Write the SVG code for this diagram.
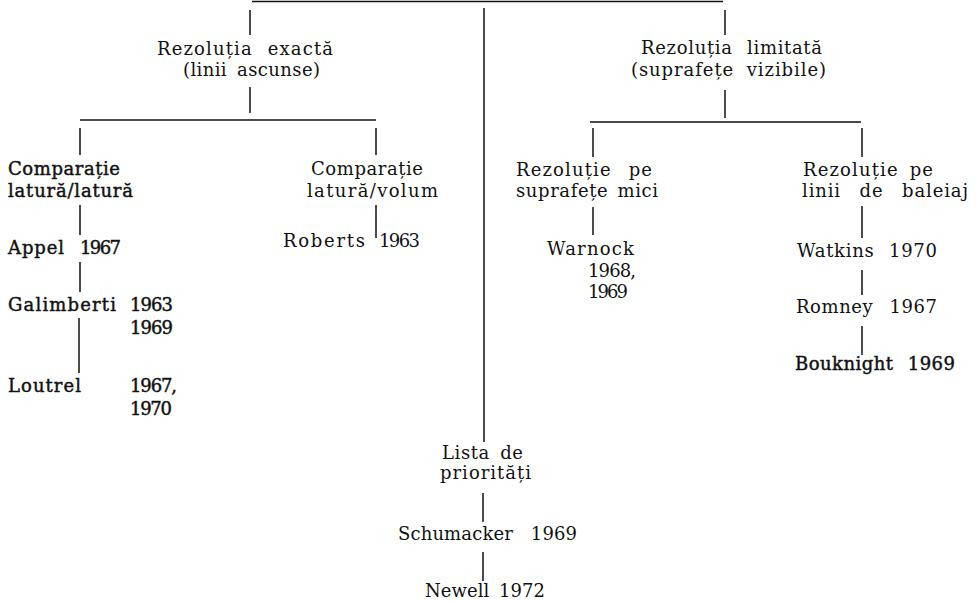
<svg xmlns="http://www.w3.org/2000/svg" width="977" height="601" viewBox="0 0 977 601">
<style>
text{font-family:"DejaVu Serif","Liberation Serif",serif;font-size:18px;fill:#111;}
.b{stroke:#111;stroke-width:0.45px;}
#connectors line{stroke:#111;stroke-width:1.5;}
</style>
<rect width="977" height="601" fill="#fff"/>
<g id="connectors">
<line x1="252" y1="1.5" x2="723" y2="1.5"/>
<line x1="250" y1="10" x2="250" y2="35"/>
<line x1="250" y1="87" x2="250" y2="113"/>
<line x1="80" y1="120" x2="376" y2="120"/>
<line x1="80" y1="128" x2="80" y2="155"/>
<line x1="80" y1="205" x2="80" y2="235"/>
<line x1="80" y1="262" x2="80" y2="292"/>
<line x1="79" y1="318" x2="79" y2="373"/>
<line x1="376" y1="128" x2="376" y2="155"/>
<line x1="376" y1="205" x2="376" y2="238"/>
<line x1="484" y1="8" x2="484" y2="442"/>
<line x1="483" y1="493" x2="483" y2="522"/>
<line x1="483" y1="552" x2="483" y2="581"/>
<line x1="725" y1="10" x2="725" y2="35"/>
<line x1="725" y1="90" x2="725" y2="118"/>
<line x1="590" y1="122" x2="861" y2="122"/>
<line x1="593" y1="128" x2="593" y2="157"/>
<line x1="593" y1="207" x2="593" y2="235"/>
<line x1="862" y1="128" x2="862" y2="157"/>
<line x1="862" y1="206" x2="862" y2="238"/>
<line x1="862" y1="270" x2="862" y2="295"/>
<line x1="862" y1="326" x2="862" y2="355"/>
</g>
<g id="rezolutia-exacta">
<text x="157" y="55" textLength="176" lengthAdjust="spacing" word-spacing="8">Rezoluția exactă</text>
<text x="183" y="76" textLength="137" lengthAdjust="spacing" word-spacing="4">(linii ascunse)</text>
</g>
<g id="rezolutia-limitata">
<text x="641" y="54" textLength="181" lengthAdjust="spacing" word-spacing="8">Rezoluția limitată</text>
<text x="631" y="76" textLength="195" lengthAdjust="spacing" word-spacing="6">(suprafețe vizibile)</text>
</g>
<g id="comparatie-latura-latura">
<text class="b" x="8" y="175" textLength="112" lengthAdjust="spacing">Comparație</text>
<text class="b" x="8" y="197" textLength="125" lengthAdjust="spacing">latură/latură</text>
</g>
<g id="appel">
<text class="b" x="8" y="254" textLength="56" lengthAdjust="spacing">Appel</text>
<text class="b" x="80" y="254" textLength="41" lengthAdjust="spacing">1967</text>
</g>
<g id="galimberti">
<text class="b" x="8" y="311" textLength="108" lengthAdjust="spacing">Galimberti</text>
<text class="b" x="130" y="311" textLength="43" lengthAdjust="spacing">1963</text>
<text class="b" x="130" y="334" textLength="43" lengthAdjust="spacing">1969</text>
</g>
<g id="loutrel">
<text class="b" x="8" y="392" textLength="73" lengthAdjust="spacing">Loutrel</text>
<text class="b" x="130" y="392" textLength="47" lengthAdjust="spacing">1967,</text>
<text class="b" x="130" y="415" textLength="42" lengthAdjust="spacing">1970</text>
</g>
<g id="comparatie-latura-volum">
<text x="311" y="175" textLength="112" lengthAdjust="spacing">Comparație</text>
<text x="307" y="197" textLength="131" lengthAdjust="spacing">latură/volum</text>
</g>
<g id="roberts">
<text x="283" y="247" textLength="82" lengthAdjust="spacing">Roberts</text>
<text x="379" y="247" textLength="41" lengthAdjust="spacing">1963</text>
</g>
<g id="rezolutie-suprafete">
<text x="516" y="176" textLength="136" lengthAdjust="spacing" word-spacing="10">Rezoluție pe</text>
<text x="516" y="197" textLength="142" lengthAdjust="spacing" word-spacing="3">suprafețe mici</text>
</g>
<g id="warnock">
<text x="547" y="255" textLength="87" lengthAdjust="spacing">Warnock</text>
<text x="588" y="277" textLength="48" lengthAdjust="spacing">1968,</text>
<text x="588" y="298" textLength="40" lengthAdjust="spacing">1969</text>
</g>
<g id="rezolutie-linii">
<text x="803" y="176" textLength="130" lengthAdjust="spacing" word-spacing="4">Rezoluție pe</text>
<text x="802" y="197" textLength="166" lengthAdjust="spacing" word-spacing="12">linii de baleiaj</text>
</g>
<g id="watkins">
<text x="797" y="257" textLength="140" lengthAdjust="spacing" word-spacing="8">Watkins 1970</text>
</g>
<g id="romney">
<text x="796" y="313" textLength="141" lengthAdjust="spacing" word-spacing="10">Romney 1967</text>
</g>
<g id="bouknight">
<text class="b" x="795" y="370" textLength="160" lengthAdjust="spacing" word-spacing="8">Bouknight 1969</text>
</g>
<g id="lista-prioritati">
<text x="442" y="459" textLength="81" lengthAdjust="spacing" word-spacing="4">Lista de</text>
<text x="440" y="479" textLength="91" lengthAdjust="spacing">priorități</text>
</g>
<g id="schumacker">
<text x="398" y="540" textLength="179" lengthAdjust="spacing" word-spacing="12">Schumacker 1969</text>
</g>
<g id="newell">
<text x="425" y="597" textLength="120" lengthAdjust="spacing" word-spacing="4">Newell 1972</text>
</g>
</svg>
